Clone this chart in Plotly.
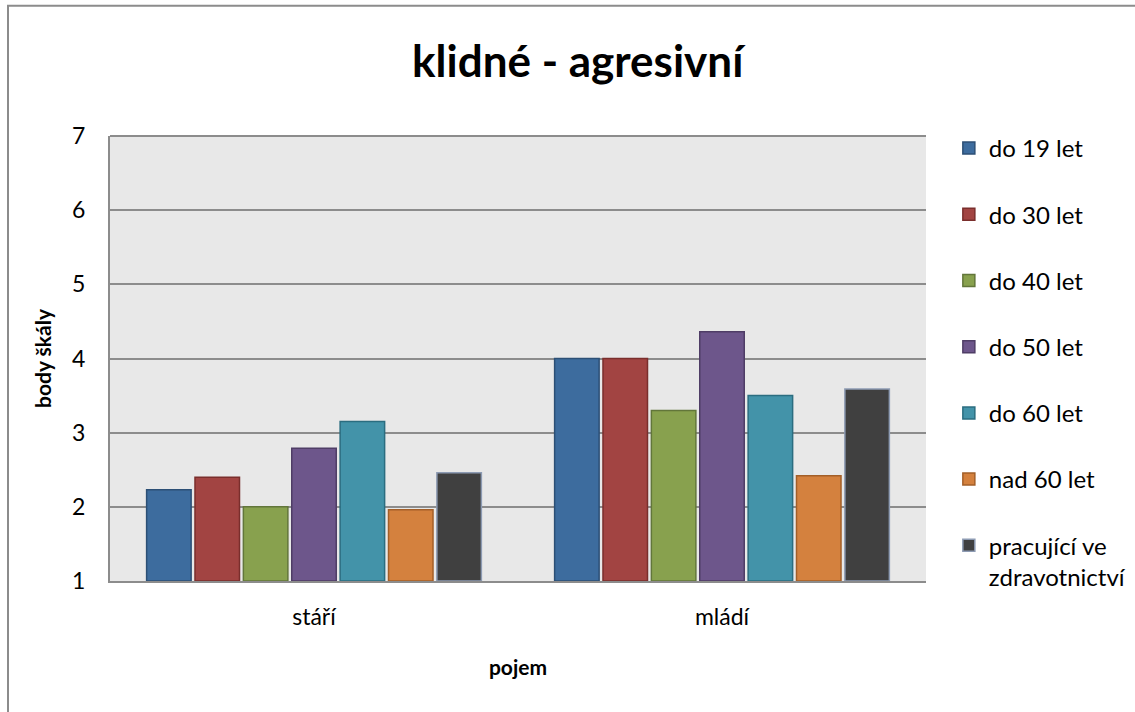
import plotly.graph_objects as go

# Categories on the x axis
pojmy = ["stáří", "mládí"]

# Age groups (legend entries)
skupiny = ["do 19 let", "do 30 let", "do 40 let", "do 50 let",
           "do 60 let", "nad 60 let", "pracující ve<br>zdravotnictví"]

# Mean scale points per group: [stáří, mládí]
do19 = [2.23, 4.0]
do30 = [2.40, 4.0]
do40 = [2.00, 3.30]
do50 = [2.79, 4.36]
do60 = [3.15, 3.50]
nad60 = [1.96, 2.42]
zdravotnictvi = [2.46, 3.59]

hodnoty = [do19, do30, do40, do50, do60, nad60, zdravotnictvi]

barvy = ["#3d6c9e", "#a24442", "#88a14e", "#6d568b", "#4393a9", "#d4813e", "#404040"]
okraje = ["#2c4f75", "#7a2e2c", "#62763a", "#4f3d66", "#2b6d80", "#a35f28", "#8d9bb3"]

font_name = "Lato"

fig = go.Figure()
for i, (name, vals) in enumerate(zip(skupiny, hodnoty)):
    fig.add_trace(go.Bar(
        x=pojmy,
        y=[v - 1 for v in vals],
        base=1,
        name=name,
        legendgroup=f"g{i}",
        marker=dict(color=barvy[i], line=dict(color=okraje[i], width=1.5)),
        hovertemplate="%{x}: %{customdata}<extra>" + name + "</extra>",
        customdata=vals,
    ))

fig.update_layout(
    width=1135,
    height=712,
    margin=dict(l=110, r=209, t=136, b=131, autoexpand=False),
    paper_bgcolor="white",
    plot_bgcolor="#e8e8e8",
    barmode="group",
    bargap=0.17,
    bargroupgap=0.08,
    font=dict(family=font_name, color="black"),
    title=dict(
        text="<b>klidné - agresivní</b>",
        x=0.509, xanchor="center",
        y=0.913, yanchor="middle",
        font=dict(family=font_name, size=44, color="black"),
    ),
    legend=dict(
        x=1.028, xanchor="left",
        y=1.0225, yanchor="top",
        font=dict(family=font_name, size=24, color="black"),
        tracegroupgap=32,
        itemwidth=30,
        valign="top",
        maxheight=1.0,
        bgcolor="rgba(0,0,0,0)",
    ),
    xaxis=dict(
        showgrid=False,
        showline=True,
        linecolor="#8c8c8c",
        linewidth=2,
        ticks="",
        ticklabelstandoff=14,
        tickfont=dict(family=font_name, size=23, color="black"),
        title=dict(text="<b>pojem</b>", font=dict(family=font_name, size=21, color="black"), standoff=32),
    ),
    yaxis=dict(
        range=[1, 7],
        tickvals=[1, 2, 3, 4, 5, 6, 7],
        showgrid=True,
        gridcolor="#8c8c8c",
        gridwidth=2,
        showline=True,
        linecolor="#8c8c8c",
        linewidth=2,
        zeroline=False,
        ticks="",
        ticklabelstandoff=18,
        tickfont=dict(family=font_name, size=23, color="black"),
        title=dict(text="<b>body škály</b>", font=dict(family=font_name, size=21, color="black"), standoff=15),
    ),
    shapes=[
        # chart frame
        dict(type="rect", xref="paper", yref="paper",
             x0=(8 - 110) / 816, x1=1.6, y0=-0.6, y1=(580.5 - 6) / 444.5,
             line=dict(color="#8c8c8c", width=2), fillcolor="rgba(0,0,0,0)", layer="below"),
        # plot area top edge
        dict(type="line", xref="paper", yref="paper", x0=0, x1=1, y0=1, y1=1,
             line=dict(color="#8c8c8c", width=2)),
    ],
)

fig.write_html("out.html")
